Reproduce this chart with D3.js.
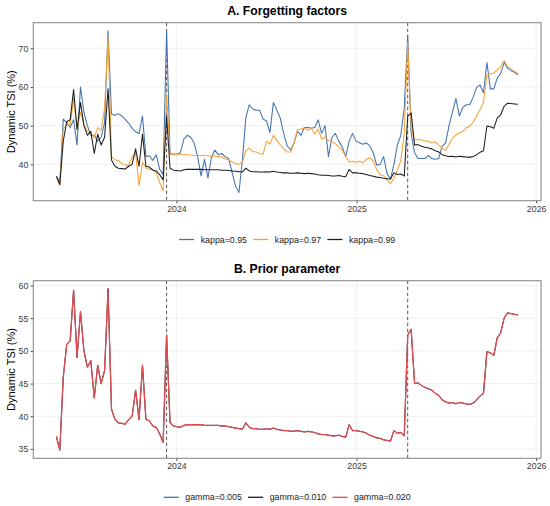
<!DOCTYPE html>
<html>
<head>
<meta charset="utf-8">
<script src="https://cdn.jsdelivr.net/npm/d3@7"></script>
<style>
  body { margin: 0; background: #fff; }
  svg { font-family: "Liberation Sans", Arial, sans-serif; }
</style>
</head>
<body>
<svg id="chart" width="550" height="506"></svg>
<script>
// weekly readings
const dates = [
  '2023-05-02','2023-05-09','2023-05-16','2023-05-23','2023-05-30','2023-06-06','2023-06-13','2023-06-20','2023-06-27','2023-07-04',
  '2023-07-11','2023-07-18','2023-07-25','2023-08-01','2023-08-08','2023-08-15','2023-08-22','2023-08-29','2023-09-05','2023-09-12',
  '2023-09-19','2023-09-26','2023-10-03','2023-10-10','2023-10-17','2023-10-24','2023-10-31','2023-11-07','2023-11-14','2023-11-21',
  '2023-11-28','2023-12-05','2023-12-12','2023-12-19','2023-12-26','2024-01-02','2024-01-09','2024-01-16','2024-01-23','2024-01-30',
  '2024-02-06','2024-02-13','2024-02-20','2024-02-27','2024-03-05','2024-03-12','2024-03-19','2024-03-26','2024-04-02','2024-04-09',
  '2024-04-16','2024-04-23','2024-04-30','2024-05-07','2024-05-14','2024-05-21','2024-05-28','2024-06-04','2024-06-11','2024-06-18',
  '2024-06-25','2024-07-02','2024-07-09','2024-07-16','2024-07-23','2024-07-30','2024-08-06','2024-08-13','2024-08-20','2024-08-27',
  '2024-09-03','2024-09-10','2024-09-17','2024-09-24','2024-10-01','2024-10-08','2024-10-15','2024-10-22','2024-10-29','2024-11-05',
  '2024-11-12','2024-11-19','2024-11-26','2024-12-03','2024-12-10','2024-12-17','2024-12-24','2024-12-31','2025-01-07','2025-01-14',
  '2025-01-21','2025-01-28','2025-02-04','2025-02-11','2025-02-18','2025-02-25','2025-03-04','2025-03-11','2025-03-18','2025-03-25',
  '2025-04-01','2025-04-08','2025-04-15','2025-04-22','2025-04-29','2025-05-06','2025-05-13','2025-05-20','2025-05-27','2025-06-03',
  '2025-06-10','2025-06-17','2025-06-24','2025-07-01','2025-07-08','2025-07-15','2025-07-22','2025-07-29','2025-08-05','2025-08-12',
  '2025-08-19','2025-08-26','2025-09-02','2025-09-09','2025-09-16','2025-09-23','2025-09-30','2025-10-07','2025-10-14','2025-10-21',
  '2025-10-28','2025-11-04','2025-11-11','2025-11-18','2025-11-25'
];

const kappa95 = [
  36.9, 35.5, 51.7, 50.8, 49.5, 51.5, 45.0, 60.0, 53.4, 50.0,
  47.5, 47.5, 46.0, 47.0, 50.8, 74.5, 53.0, 52.7, 53.1, 52.5,
  51.6, 50.6, 49.3, 48.4, 47.9, 52.5, 42.0, 42.2, 41.0, 42.5,
  38.7, 37.4, 74.5, 42.8, 42.6, 42.7, 43.0, 46.5, 47.5, 47.0,
  45.5, 42.0, 37.0, 41.3, 36.5, 41.7, 43.7, 42.5, 42.8, 42.0,
  41.5, 38.0, 34.5, 32.7, 41.0, 52.0, 55.4, 54.3, 54.0, 54.0,
  51.7, 51.2, 48.2, 56.0, 54.0, 51.9, 48.0, 44.8, 43.7, 45.5,
  48.5, 47.5, 49.5, 49.5, 49.3, 49.5, 51.5, 48.0, 50.0, 42.0,
  47.0, 48.0, 46.0, 44.5, 42.0, 46.0, 48.0, 46.0, 45.6, 45.2,
  45.6, 44.7, 43.0, 39.8, 40.0, 42.0, 37.6, 36.2, 40.0, 45.0,
  47.5, 54.5, 73.2, 48.0, 43.0, 41.5, 41.5, 41.5, 42.3, 41.5,
  41.3, 41.5, 44.7, 45.5, 50.0, 53.5, 57.0, 52.5, 54.7, 55.4,
  55.4, 57.3, 59.9, 60.5, 58.5, 66.3, 59.5, 59.5, 62.3, 63.5,
  66.3, 64.8, 64.2, 63.8, 63.1
];

const kappa97 = [
  36.9, 34.6, 49.2, 50.2, 50.2, 57.0, 49.0, 53.5, 50.3, 48.5,
  48.0, 47.0, 49.5, 48.8, 54.5, 73.0, 42.0, 41.2, 41.0, 40.2,
  39.8, 39.8, 42.0, 43.0, 34.5, 40.5, 39.1, 38.7, 38.7, 37.8,
  35.3, 33.1, 58.0, 42.6, 42.6, 42.6, 42.6, 42.5, 42.5, 42.4,
  42.3, 42.3, 42.3, 42.2, 42.2, 42.1, 42.1, 42.0, 41.9, 41.4,
  41.2, 40.6, 40.2, 40.0, 40.6, 43.5, 44.2, 43.3, 43.2, 42.8,
  42.6, 46.0, 45.2, 47.5, 46.2, 45.0, 44.0, 43.2, 43.2, 45.5,
  49.0, 49.1, 49.4, 48.8, 49.4, 47.8, 49.1, 46.5, 47.0, 46.2,
  45.8, 45.3, 44.6, 43.7, 42.0, 40.6, 40.8, 40.5, 40.9, 40.4,
  41.3, 41.7, 40.9, 38.6, 37.4, 37.0, 36.0, 35.0, 36.5, 38.5,
  41.0, 48.0, 71.5, 49.5, 46.2, 46.5, 46.3, 46.0, 46.0, 45.5,
  45.8, 44.9, 44.2, 43.6, 45.2, 46.7, 47.6, 48.1, 48.5, 49.4,
  49.9, 50.8, 52.5, 54.2, 56.0, 63.0, 63.4, 63.6, 64.4, 65.3,
  66.8, 65.2, 64.6, 64.0, 63.5
];

// kappa=0.99 and all three gamma lines coincide in the picture
const kappa99 = [
  36.9, 34.8, 46.0, 51.0, 51.5, 59.3, 49.0, 56.0, 50.0, 47.5,
  48.5, 42.8, 47.8, 45.0, 47.0, 59.5, 41.1, 39.5, 39.0, 38.9,
  38.8, 39.5, 40.0, 44.0, 39.5, 47.8, 39.5, 39.3, 38.5, 38.3,
  37.3, 36.0, 52.4, 39.0, 38.5, 38.4, 38.3, 38.6, 38.7, 38.7,
  38.7, 38.7, 38.7, 38.6, 38.6, 38.6, 38.6, 38.6, 38.5, 38.5,
  38.4, 38.3, 38.2, 38.1, 38.0, 39.0, 38.3, 38.1, 38.1, 38.0,
  38.0, 38.1, 38.0, 38.2, 38.0, 37.9, 37.8, 37.8, 37.7, 37.7,
  37.8, 37.7, 37.6, 37.7, 37.6, 37.5, 37.3, 37.2, 37.2, 37.1,
  37.0, 37.0, 37.1, 36.9, 36.8, 38.7, 37.8, 37.8, 37.7, 37.6,
  37.4, 37.1, 36.9, 36.7, 36.6, 36.4, 36.3, 36.2, 37.8, 37.4,
  37.5, 37.0, 52.4, 53.3, 45.0, 45.1, 44.7, 44.4, 44.2, 44.0,
  43.5, 43.2, 42.5, 42.2, 42.0, 42.1, 41.9, 42.1, 42.0, 41.9,
  41.8, 42.0, 42.5, 43.1, 43.5, 49.9, 49.7, 49.3, 52.0, 52.8,
  55.0, 55.8, 55.7, 55.6, 55.5
];

const eventDates = ['2023-12-12', '2025-04-15'];
const yearTicks = ['2024-01-01', '2025-01-01', '2026-01-01'];
const yTicksA = [40, 50, 60, 70];
const yTicksB = [35, 40, 45, 50, 55, 60];
const kappaLabels = ['kappa=0.95', 'kappa=0.97', 'kappa=0.99'];
const gammaLabels = ['gamma=0.005', 'gamma=0.010', 'gamma=0.020'];

const tsiChart = {
  option: {
    left: 33.3,
    right: 541,
    colors: ['#4272b0', '#f7a134', '#1e1e1e'],
    gammaColors: ['#4272b0', '#1e1e1e', '#de4c50']
  }
};

const parseDate = d3.timeParse('%Y-%m-%d');

function translate(x, y) {
  return `translate(${x}, ${y})`;
}

function padExtent(ext, frac) {
  const span = ext[1] - ext[0];
  return [ext[0] - span * frac, ext[1] + span * frac];
}

tsiChart.drawPanel = function(svg, panel) {
  const opt = tsiChart.option;
  const g = svg.append('g');
  const parsed = dates.map(parseDate);

  const xExt = padExtent(d3.extent(parsed).map(d => +d), 0.05);
  const x = d3.scaleTime().domain(xExt.map(d => new Date(d))).range([opt.left, opt.right]);
  const allVals = panel.series.flatMap(s => s.values);
  const y = d3.scaleLinear().domain(padExtent(d3.extent(allVals), 0.05)).range([panel.bottom, panel.top]);

  // grid
  g.append('g').selectAll('line').data(panel.yTicks).join('line')
    .attr('x1', opt.left).attr('x2', opt.right)
    .attr('y1', d => y(d)).attr('y2', d => y(d))
    .attr('stroke', '#ebebeb').attr('stroke-width', 0.8);
  g.append('g').selectAll('line').data(yearTicks.map(parseDate)).join('line')
    .attr('x1', d => x(d)).attr('x2', d => x(d))
    .attr('y1', panel.top).attr('y2', panel.bottom)
    .attr('stroke', '#ebebeb').attr('stroke-width', 0.8);

  // event markers
  g.append('g').selectAll('line').data(eventDates.map(parseDate)).join('line')
    .attr('x1', d => x(d)).attr('x2', d => x(d))
    .attr('y1', panel.top).attr('y2', panel.bottom)
    .attr('stroke', '#454545').attr('stroke-width', 0.9)
    .attr('stroke-dasharray', '3.5,2.5');

  // series (last one on top; hidden ones thinner so they do not tint it)
  const line = d3.line().x((d, i) => x(parsed[i])).y(d => y(d));
  const last = panel.series.length - 1;
  g.append('g').selectAll('path').data(panel.series).join('path')
    .attr('d', s => line(s.values))
    .attr('fill', 'none')
    .attr('stroke', s => s.color)
    .attr('stroke-width', (s, i) => panel.overlap && i < last ? 0.7 : 1.05)
    .attr('stroke-linejoin', 'round');
  if (panel.overlap) {
    g.select('g:last-of-type path:last-child').attr('stroke-width', 1.3);
  }

  // border
  g.append('rect')
    .attr('x', opt.left).attr('y', panel.top)
    .attr('width', opt.right - opt.left).attr('height', panel.bottom - panel.top)
    .attr('fill', 'none').attr('stroke', '#8c8c8c').attr('stroke-width', 1.1);

  // axes
  const xAxis = g.append('g').attr('transform', translate(0, panel.bottom))
    .call(d3.axisBottom(x).tickValues(yearTicks.map(parseDate)).tickFormat(d3.timeFormat('%Y'))
      .tickSize(2.7).tickPadding(2.2));
  const yAxis = g.append('g').attr('transform', translate(opt.left, 0))
    .call(d3.axisLeft(y).tickValues(panel.yTicks).tickSize(2.7).tickPadding(2.2));
  [xAxis, yAxis].forEach(ax => {
    ax.select('.domain').remove();
    ax.selectAll('line').attr('stroke', '#555');
    ax.selectAll('text').attr('fill', '#3a3a3a').style('font-size', '8.8px')
      .style('font-family', '"Liberation Sans", Arial, sans-serif');
  });

  // labels
  g.append('text')
    .attr('x', (opt.left + opt.right) / 2).attr('y', panel.titleY)
    .attr('text-anchor', 'middle')
    .style('font-size', '12.2px').style('font-weight', 'bold')
    .text(panel.title);
  g.append('text')
    .attr('transform', translate(15.3, (panel.top + panel.bottom) / 2) + ' rotate(-90)')
    .attr('text-anchor', 'middle')
    .style('font-size', '11px')
    .text('Dynamic TSI (%)');

  // legend
  const legend = g.append('g');
  let cursor = 0;
  panel.series.forEach(s => {
    const item = legend.append('g').attr('transform', translate(cursor, 0));
    item.append('line').attr('x1', 0).attr('x2', 15).attr('y1', 0).attr('y2', 0)
      .attr('stroke', s.color).attr('stroke-width', 1.3);
    const txt = item.append('text').attr('x', 21.6).attr('y', 3.1)
      .style('font-size', '8.8px').attr('fill', '#1a1a1a').text(s.label);
    cursor += 21.6 + txt.node().getComputedTextLength() + 6.3;
  });
  const legendWidth = cursor - 6.3;
  legend.attr('transform', translate((opt.left + opt.right) / 2 - legendWidth / 2, panel.legendY));
};

tsiChart.init = function(chartId) {
  const svg = d3.select(`#${chartId}`);
  const opt = tsiChart.option;

  tsiChart.drawPanel(svg, {
    title: 'A. Forgetting factors',
    top: 22.7, bottom: 200.7, titleY: 15.3, legendY: 239.5,
    yTicks: yTicksA,
    series: [kappa95, kappa97, kappa99].map((values, i) => ({
      label: kappaLabels[i], color: opt.colors[i], values: values
    }))
  });

  tsiChart.drawPanel(svg, {
    title: 'B. Prior parameter',
    top: 280.7, bottom: 458.3, titleY: 273, legendY: 497.3,
    yTicks: yTicksB,
    overlap: true,
    series: gammaLabels.map((label, i) => ({
      label: label, color: opt.gammaColors[i], values: kappa99
    }))
  });
};

tsiChart.init('chart');
</script>
</body>
</html>
